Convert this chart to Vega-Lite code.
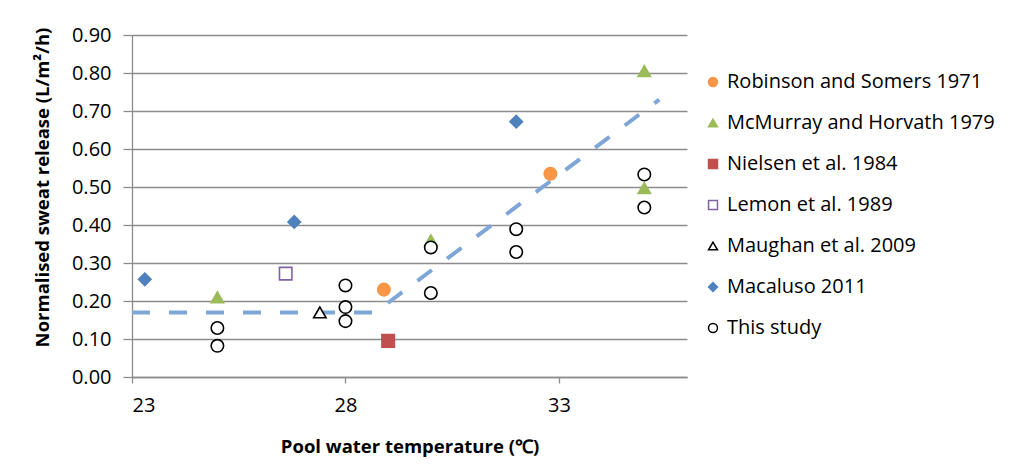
{
  "$schema": "https://vega.github.io/schema/vega-lite/v6.json",
  "width": 555,
  "height": 342,
  "autosize": {"type": "none"},
  "padding": {"left": 132, "top": 35, "right": 328, "bottom": 96},
  "background": "white",
  "config": {
    "font": "Open Sans",
    "view": {"stroke": null},
    "axis": {
      "domainColor": "#8c8c8c",
      "tickColor": "#8c8c8c",
      "gridColor": "#8c8c8c",
      "labelColor": "#000000",
      "titleColor": "#000000",
      "labelFontSize": 20,
      "titleFontSize": 18.5,
      "titleFontWeight": "bold",
      "domainWidth": 1.3,
      "gridWidth": 1.3,
      "tickWidth": 1.3
    }
  },
  "datasets": {
    "trend": [
      {"temp": 23, "rate": 0.17},
      {"temp": 28.7, "rate": 0.17},
      {"temp": 35.35, "rate": 0.73}
    ],
    "obs": [
      {"study": "Robinson and Somers 1971", "temp": 28.9, "rate": 0.23},
      {"study": "Robinson and Somers 1971", "temp": 32.8, "rate": 0.535},
      {"study": "McMurray and Horvath 1979", "temp": 25, "rate": 0.21},
      {"study": "McMurray and Horvath 1979", "temp": 30, "rate": 0.36},
      {"study": "McMurray and Horvath 1979", "temp": 35, "rate": 0.805},
      {"study": "McMurray and Horvath 1979", "temp": 35, "rate": 0.497},
      {"study": "Nielsen et al. 1984", "temp": 29, "rate": 0.095},
      {"study": "Lemon et al. 1989", "temp": 26.6, "rate": 0.272},
      {"study": "Maughan et al. 2009", "temp": 27.4, "rate": 0.17},
      {"study": "Macaluso 2011", "temp": 23.3, "rate": 0.257},
      {"study": "Macaluso 2011", "temp": 26.8, "rate": 0.408},
      {"study": "Macaluso 2011", "temp": 32, "rate": 0.672},
      {"study": "This study", "temp": 25, "rate": 0.129},
      {"study": "This study", "temp": 25, "rate": 0.082},
      {"study": "This study", "temp": 28, "rate": 0.241},
      {"study": "This study", "temp": 28, "rate": 0.184},
      {"study": "This study", "temp": 28, "rate": 0.147},
      {"study": "This study", "temp": 30, "rate": 0.341},
      {"study": "This study", "temp": 30, "rate": 0.221},
      {"study": "This study", "temp": 32, "rate": 0.389},
      {"study": "This study", "temp": 32, "rate": 0.329},
      {"study": "This study", "temp": 35, "rate": 0.533},
      {"study": "This study", "temp": 35, "rate": 0.446}
    ]
  },
  "encoding": {
    "x": {
      "field": "temp",
      "type": "quantitative",
      "scale": {"domain": [23, 36], "nice": false, "zero": false},
      "axis": {
        "title": "Pool water temperature (℃)",
        "values": [23, 28, 33],
        "grid": false,
        "tickSize": 6,
        "labelPadding": 12,
        "titlePadding": 22
      }
    },
    "y": {
      "field": "rate",
      "type": "quantitative",
      "scale": {"domain": [0, 0.9], "nice": false},
      "axis": {
        "title": "Normalised sweat release (L/m²/h)",
        "values": [0, 0.1, 0.2, 0.3, 0.4, 0.5, 0.6, 0.7, 0.8, 0.9],
        "format": ".2f",
        "grid": true,
        "tickSize": 9,
        "labelPadding": 12,
        "titleX": -90,
        "titleY": 152,
        "titleAlign": "center",
        "titleBaseline": "middle",
        "titleAngle": -90
      }
    }
  },
  "layer": [
    {
      "data": {"name": "trend"},
      "mark": {"type": "line", "color": "#7EA6D6", "strokeWidth": 4, "strokeDash": [18, 19], "strokeCap": "butt"}
    },
    {
      "data": {"name": "obs"},
      "mark": {"type": "point", "size": 155, "strokeWidth": 1.6, "opacity": 1},
      "encoding": {
        "shape": {
          "field": "study",
          "type": "nominal",
          "scale": {
            "domain": ["Robinson and Somers 1971", "McMurray and Horvath 1979", "Nielsen et al. 1984", "Lemon et al. 1989", "Maughan et al. 2009", "Macaluso 2011", "This study"],
            "range": ["circle", "triangle-up", "square", "square", "triangle-up", "diamond", "circle"]
          },
          "legend": {
            "title": null,
            "orient": "none",
            "legendX": 571,
            "legendY": 37,
            "padding": 0,
            "labelFontSize": 20,
            "labelLimit": 320,
            "labelColor": "#000000",
            "labelOffset": 4,
            "rowPadding": 21,
            "symbolSize": 80,
            "symbolStrokeWidth": 1.5
          }
        },
        "fill": {
          "field": "study",
          "type": "nominal",
          "scale": {
            "domain": ["Robinson and Somers 1971", "McMurray and Horvath 1979", "Nielsen et al. 1984", "Lemon et al. 1989", "Maughan et al. 2009", "Macaluso 2011", "This study"],
            "range": ["#F79646", "#9BBB59", "#C0504D", "#ffffff", "#ffffff", "#4F81BD", "#ffffff"]
          }
        },
        "stroke": {
          "field": "study",
          "type": "nominal",
          "scale": {
            "domain": ["Robinson and Somers 1971", "McMurray and Horvath 1979", "Nielsen et al. 1984", "Lemon et al. 1989", "Maughan et al. 2009", "Macaluso 2011", "This study"],
            "range": ["#F79646", "#9BBB59", "#C0504D", "#8064A2", "#000000", "#4F81BD", "#000000"]
          }
        }
      }
    }
  ]
}
